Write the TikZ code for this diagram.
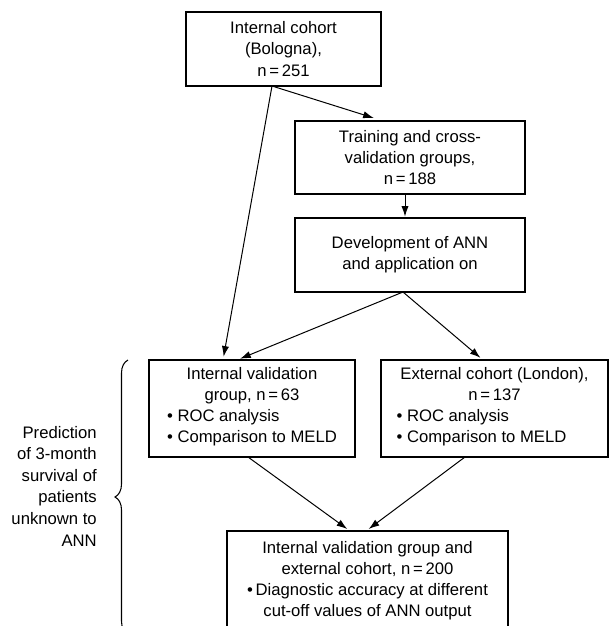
\documentclass[tikz,border=0pt]{standalone}
\usepackage{fontspec}
\setmainfont{Liberation Sans}
\usetikzlibrary{arrows.meta,calc,decorations.pathreplacing}
\tikzset{
  cohortbox/.style={draw, line width=1pt, inner sep=0pt, outer sep=0pt, align=center, font=\fontsize{12.5pt}{15.8pt}\selectfont},
  flowarrow/.style={-{Latex[length=8pt,width=5.4pt]}, line width=0.75pt, shorten >=2.5pt}
}
\begin{document}
\begin{tikzpicture}[x=0.75pt,y=-0.75pt]
\useasboundingbox (0,0) rectangle (610,626);
\clip (0,0) rectangle (610,626);
\node[cohortbox, minimum width=146.25pt, minimum height=55.5pt] (bologna) at (283.5,49) {Internal cohort\\(Bologna),\\n\,=\,251};
\node[cohortbox, minimum width=172.5pt, minimum height=54.75pt] (training) at (410,157.5) {Training and cross-\\validation groups,\\n\,=\,188};
\node[cohortbox, minimum width=172.5pt, minimum height=55.5pt] (ann) at (410,255) {Development of ANN\\and application on};
\node[cohortbox, minimum width=154.5pt, minimum height=72.75pt] (internal) at (252,408.5) {Internal validation\\group, n\,=\,63\\\begin{tabular}[t]{@{}l@{}}• ROC analysis\\• Comparison to MELD\end{tabular}};
\node[cohortbox, minimum width=170.25pt, minimum height=72.75pt] (london) at (494.5,408.5) {External cohort (London),\\n\,=\,137\\\hspace*{-19.5pt}\begin{tabular}[t]{@{}l@{}}• ROC analysis\\• Comparison to MELD\end{tabular}};
\node[cohortbox, minimum width=210.75pt, minimum height=75pt] (combined) at (367.5,581) {Internal validation group and\\external cohort, n\,=\,200\\•\,Diagnostic accuracy at different\\cut-off values of ANN output};
\node[align=right, anchor=east, inner sep=0pt, font=\fontsize{12.5pt}{16.2pt}\selectfont] (survival) at (97,486) {Prediction\\of 3-month\\survival of\\patients\\unknown to\\ANN};
% brace for the prediction part
\draw[decorate, decoration={brace, amplitude=9.75pt}, line width=0.8pt] (128,634) -- (128,360);
% arrows
\draw[flowarrow] ($(bologna.south)+(-11.5,0)$) -- ($(training.north)+(-33,-2)$);
\draw[flowarrow] ($(bologna.south)+(-11.5,0)$) -- ($(internal.north)+(-29,0)$);
\draw[flowarrow, shorten >=1pt] ($(training.south)+(-5,0)$) -- ($(ann.north)+(-5,0)$);
\draw[flowarrow] ($(ann.south)+(-7,0)$) -- ($(internal.north)+(-15,0)$);
\draw[flowarrow] ($(ann.south)+(-7,0)$) -- ($(london.north)+(-11.5,0)$);
\draw[flowarrow] ($(internal.south)+(-4,0)$) -- ($(combined.north)+(-17.5,0)$);
\draw[flowarrow] ($(london.south)+(-29.5,0)$) -- ($(combined.north)+(-1.5,0)$);
\end{tikzpicture}
\end{document}
